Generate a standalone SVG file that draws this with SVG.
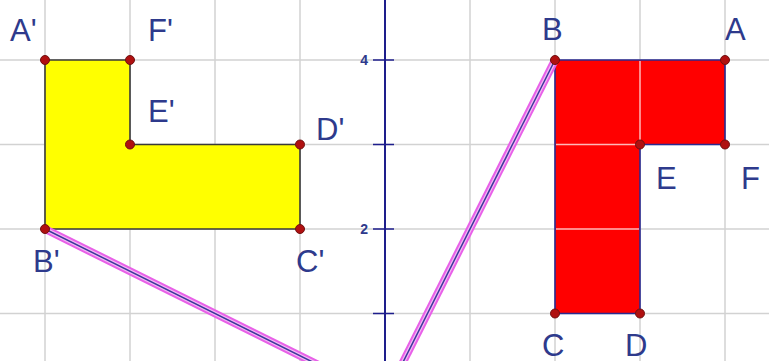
<svg xmlns="http://www.w3.org/2000/svg" width="769" height="361" viewBox="0 0 769 361">
<style>
.grid{stroke:#d2d2d2;stroke-width:1.5}
.inner{stroke:#ffb8b8;stroke-width:1.5}
.lbl{font-family:"Liberation Sans",Arial,sans-serif;font-size:31px;fill:#2e3a8c}
.num{font-family:"Liberation Sans",Arial,sans-serif;font-size:14px;font-weight:bold;fill:#2e3a8c}
.pt{fill:#b01010;stroke:#701010;stroke-width:1}
.halo{stroke:#e860e8;stroke-width:8;fill:none}
.halo2{stroke:#f6b6f6;stroke-width:4;fill:none}
.core{stroke:#3a3a9a;stroke-width:1.5;fill:none}
</style>
<rect width="769" height="361" fill="#ffffff"/>
<g id="grid">
<line class="grid" x1="0" y1="60" x2="769" y2="60"/>
<line class="grid" x1="0" y1="144.5" x2="769" y2="144.5"/>
<line class="grid" x1="0" y1="229" x2="769" y2="229"/>
<line class="grid" x1="0" y1="313.5" x2="769" y2="313.5"/>
<line class="grid" x1="45" y1="0" x2="45" y2="361"/>
<line class="grid" x1="130" y1="0" x2="130" y2="361"/>
<line class="grid" x1="215" y1="0" x2="215" y2="361"/>
<line class="grid" x1="300" y1="0" x2="300" y2="361"/>
<line class="grid" x1="470" y1="0" x2="470" y2="361"/>
<line class="grid" x1="555" y1="0" x2="555" y2="361"/>
<line class="grid" x1="640" y1="0" x2="640" y2="361"/>
<line class="grid" x1="725" y1="0" x2="725" y2="361"/>
</g>
<g id="axis">
<line x1="385" y1="0" x2="385" y2="361" stroke="#1e1e8c" stroke-width="2"/>
<line x1="373" y1="60" x2="394" y2="60" stroke="#1e1e8c" stroke-width="1.5"/>
<line x1="373" y1="144.5" x2="394" y2="144.5" stroke="#1e1e8c" stroke-width="1.5"/>
<line x1="373" y1="229" x2="394" y2="229" stroke="#1e1e8c" stroke-width="1.5"/>
<line x1="373" y1="313.5" x2="394" y2="313.5" stroke="#1e1e8c" stroke-width="1.5"/>
<text class="num" x="368" y="65" text-anchor="end">4</text>
<text class="num" x="368" y="234" text-anchor="end">2</text>
</g>
<g id="yellow-shape">
<polygon points="45,60 130,60 130,144.5 300,144.5 300,229 45,229" fill="#ffff00" stroke="#3a3a3a" stroke-width="1.6"/>
</g>
<g id="red-shape">
<polygon points="555,60 725,60 725,144.5 640,144.5 640,313.5 555,313.5" fill="#ff0000" stroke="#2a2a90" stroke-width="1.6"/>
<line class="inner" x1="640" y1="61" x2="640" y2="143.5"/>
<line class="inner" x1="556" y1="144.5" x2="639" y2="144.5"/>
<line class="inner" x1="556" y1="229" x2="639" y2="229"/>
</g>
<g id="connectors">
<line class="halo" x1="45" y1="229" x2="385" y2="398"/>
<line class="halo2" x1="45" y1="229" x2="385" y2="398"/>
<line class="core" x1="45" y1="229" x2="385" y2="398"/>
<line class="halo" x1="555" y1="60" x2="385" y2="398"/>
<line class="halo2" x1="555" y1="60" x2="385" y2="398"/>
<line class="core" x1="555" y1="60" x2="385" y2="398"/>
</g>
<g id="points">
<circle class="pt" cx="45" cy="60" r="4.5"/>
<circle class="pt" cx="130" cy="60" r="4.5"/>
<circle class="pt" cx="130" cy="144.5" r="4.5"/>
<circle class="pt" cx="300" cy="144.5" r="4.5"/>
<circle class="pt" cx="300" cy="229" r="4.5"/>
<circle class="pt" cx="45" cy="229" r="4.5"/>
<circle class="pt" cx="555" cy="60" r="4.5"/>
<circle class="pt" cx="725" cy="60" r="4.5"/>
<circle class="pt" cx="725" cy="144.5" r="4.5"/>
<circle class="pt" cx="640" cy="144.5" r="4.5"/>
<circle class="pt" cx="640" cy="313.5" r="4.5"/>
<circle class="pt" cx="555" cy="313.5" r="4.5"/>
</g>
<g id="labels">
<text class="lbl" x="10" y="41">A'</text>
<text class="lbl" x="148" y="41">F'</text>
<text class="lbl" x="148" y="122">E'</text>
<text class="lbl" x="316" y="140">D'</text>
<text class="lbl" x="296" y="272">C'</text>
<text class="lbl" x="33" y="272">B'</text>
<text class="lbl" x="542" y="40">B</text>
<text class="lbl" x="725" y="40">A</text>
<text class="lbl" x="656" y="189">E</text>
<text class="lbl" x="741" y="189">F</text>
<text class="lbl" x="542" y="356">C</text>
<text class="lbl" x="625" y="356">D</text>
</g>
</svg>
